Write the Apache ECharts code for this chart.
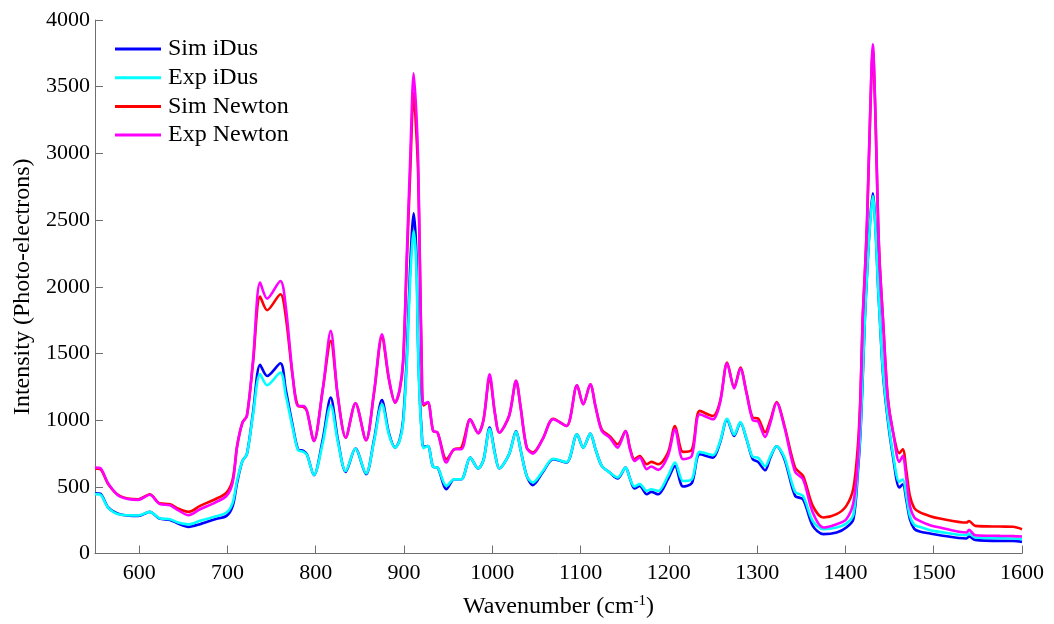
<!DOCTYPE html>
<html>
<head>
<meta charset="utf-8">
<script src="https://cdn.jsdelivr.net/npm/echarts@6/dist/echarts.min.js"></script>
<style>
  html, body { margin: 0; padding: 0; background: #fff; }
  #chart { width: 1054px; height: 624px; }
</style>
</head>
<body>
<div id="chart"></div>
<script>
// Wavenumber sample positions (cm^-1)
const wavenumbers = [
  550, 556, 565, 578, 599, 612, 623, 635, 644, 656, 669, 686, 699, 706, 711, 717, 722, 729, 737, 745, 760,
  766, 774, 780, 786, 790, 798, 808, 817, 825, 834, 845, 857, 866, 875, 883, 890, 895, 899, 903, 907,
  911, 914, 916, 918, 920, 922, 927, 933, 938, 948, 957, 965, 975, 984, 990, 997, 1003, 1008, 1019, 1027,
  1032, 1039, 1046, 1057, 1069, 1084, 1096, 1103, 1111, 1117, 1124, 1133, 1142, 1151, 1156, 1161, 1167, 1175, 1180, 1188,
  1199, 1207, 1216, 1226, 1235, 1250, 1258, 1266, 1274, 1281, 1288, 1295, 1301, 1309, 1315, 1322, 1331, 1343, 1352, 1363,
  1375, 1390, 1401, 1409, 1414, 1417, 1419.5, 1422, 1424.5, 1428, 1431, 1434, 1437, 1439, 1442.5, 1448, 1454, 1461, 1465, 1469,
  1473, 1478, 1484, 1496, 1507, 1537, 1540, 1547, 1575, 1590, 1600
];

// Photo-electron counts per series
const simIDus = [
  452, 448, 345, 295, 282, 312, 262, 252, 225, 200, 220, 257, 282, 357, 532, 694, 744, 1057, 1414, 1331, 1426,
  1231, 956, 782, 769, 744, 587, 857, 1169, 857, 612, 787, 594, 850, 1151, 900, 794, 850, 1000, 1450, 2150,
  2550, 2250, 1550, 1150, 920, 800, 806, 650, 644, 482, 557, 557, 719, 637, 700, 944, 750, 637, 744, 919,
  780, 582, 512, 607, 707, 682, 894, 794, 899, 780, 657, 607, 562, 644, 560, 487, 507, 444, 462, 444,
  557, 657, 502, 527, 744, 719, 832, 1006, 882, 982, 857, 707, 687, 624, 720, 804, 707, 432, 407, 207,
  145, 157, 195, 257, 600, 900, 1300, 1757, 2100, 2500, 2700, 2450, 2000, 1757, 1350, 1000, 720, 495, 519, 400,
  257, 185, 165, 150, 137, 112, 127, 102, 95, 95, 87
];
const expIDus = [
  445, 441, 342, 292, 285, 312, 265, 257, 232, 218, 245, 277, 307, 382, 550, 694, 744, 1040, 1344, 1261, 1357,
  1190, 940, 775, 762, 740, 590, 830, 1112, 840, 618, 787, 600, 840, 1119, 890, 794, 845, 980, 1400, 2050,
  2420, 2150, 1500, 1120, 900, 790, 806, 650, 644, 507, 557, 557, 719, 637, 700, 935, 745, 637, 744, 915,
  780, 582, 532, 615, 710, 685, 894, 794, 899, 780, 657, 607, 570, 644, 560, 502, 520, 469, 482, 469,
  582, 682, 544, 557, 762, 737, 840, 1010, 890, 985, 860, 725, 719, 654, 730, 804, 720, 462, 432, 244,
  182, 195, 225, 290, 640, 930, 1330, 1757, 2100, 2480, 2680, 2430, 2000, 1757, 1370, 1020, 740, 537, 557, 430,
  282, 215, 200, 175, 162, 137, 150, 120, 115, 112, 107
];
const simNewton = [
  637, 632, 520, 432, 407, 444, 377, 370, 337, 312, 357, 407, 457, 557, 806, 982, 1031, 1431, 1926, 1824, 1944,
  1780, 1320, 1106, 1100, 1069, 844, 1231, 1594, 1181, 869, 1127, 849, 1200, 1619, 1300, 1131, 1220, 1430, 2150, 2850,
  3450, 3150, 2850, 2150, 1430, 1110, 1131, 919, 907, 707, 782, 794, 1006, 902, 1000, 1319, 1050, 907, 1031, 1294,
  1100, 794, 757, 857, 1010, 956, 1261, 1119, 1269, 1100, 930, 880, 819, 919, 790, 707, 730, 669, 687, 669,
  757, 956, 762, 777, 1069, 1031, 1140, 1431, 1245, 1394, 1207, 1019, 1012, 909, 1000, 1136, 956, 644, 582, 357,
  270, 295, 357, 490, 800, 1180, 1750, 2100, 2480, 3270, 3780, 3270, 2480, 2150, 1760, 1170, 907, 752, 782, 620,
  432, 340, 310, 280, 262, 232, 244, 207, 202, 200, 182
];
const expNewton = [
  645, 640, 525, 428, 402, 440, 372, 362, 325, 287, 332, 382, 432, 534, 806, 982, 1031, 1450, 2031, 1911, 2043,
  1856, 1331, 1106, 1106, 1069, 844, 1231, 1669, 1181, 869, 1127, 849, 1210, 1644, 1310, 1131, 1230, 1450, 2200, 2950,
  3600, 3300, 2950, 2200, 1450, 1120, 1136, 919, 907, 682, 782, 782, 1006, 902, 1000, 1344, 1050, 907, 1031, 1294,
  1100, 794, 749, 857, 1006, 956, 1261, 1119, 1269, 1100, 919, 869, 794, 919, 780, 694, 719, 632, 652, 627,
  732, 932, 707, 732, 1044, 1006, 1131, 1426, 1237, 1387, 1200, 1000, 990, 874, 980, 1130, 945, 612, 557, 307,
  195, 220, 257, 380, 700, 1157, 1757, 2100, 2506, 3300, 3818, 3300, 2506, 2150, 1757, 1157, 907, 687, 732, 560,
  357, 270, 245, 212, 195, 157, 177, 137, 132, 130, 127
];

const seriesNames = ['Sim iDus', 'Exp iDus', 'Sim Newton', 'Exp Newton'];
const seriesColors = ['#0000ff', '#00ffff', '#ff0000', '#ff00ff'];
const xTicks = [600, 700, 800, 900, 1000, 1100, 1200, 1300, 1400, 1500, 1600];

const FONT = '"Liberation Serif", "Times New Roman", serif';
const AXIS_GREY = '#6e6e6e';

const pairs = vals => wavenumbers.map((w, i) => [w, vals[i]]);
const plain = v => String(v);

const chart = echarts.init(document.getElementById('chart'), null, { renderer: 'canvas' });
chart.setOption({
  animation: false,
  backgroundColor: '#ffffff',
  grid: { left: 95, right: 32, top: 20, bottom: 70, containLabel: false },
  legend: {
    orient: 'vertical',
    left: 110,
    top: 32,
    itemWidth: 46,
    itemHeight: 3,
    itemGap: 4.7,
    icon: 'rect',
    data: seriesNames,
    textStyle: { fontFamily: FONT, fontSize: 24, color: '#000', lineHeight: 24, padding: [0, 0, 0, 2] }
  },
  xAxis: {
    type: 'value',
    min: 550,
    max: 1600,
    name: 'Wavenumber (cm{sup|-1})',
    nameLocation: 'middle',
    nameGap: 40,
    nameTextStyle: {
      fontFamily: FONT, fontSize: 24, color: '#000',
      rich: { sup: { fontFamily: FONT, fontSize: 15, color: '#000', verticalAlign: 'top', padding: [0, 0, 12, 0] } }
    },
    axisLine: { show: true, lineStyle: { color: AXIS_GREY, width: 1 } },
    axisTick: { show: true, inside: true, length: 8, lineStyle: { color: AXIS_GREY }, customValues: xTicks },
    axisLabel: { fontFamily: FONT, fontSize: 22, color: '#000', margin: 9, customValues: xTicks, formatter: plain },
    splitLine: { show: false }
  },
  yAxis: {
    type: 'value',
    min: 0,
    max: 4000,
    interval: 500,
    name: 'Intensity (Photo-electrons)',
    nameLocation: 'middle',
    nameGap: 60,
    nameTextStyle: { fontFamily: FONT, fontSize: 24, color: '#000' },
    axisLine: { show: true, lineStyle: { color: AXIS_GREY, width: 1 } },
    axisTick: { show: true, inside: true, length: 8, lineStyle: { color: AXIS_GREY } },
    axisLabel: { fontFamily: FONT, fontSize: 22, color: '#000', margin: 5, formatter: plain },
    splitLine: { show: false }
  },
  series: [simIDus, expIDus, simNewton, expNewton].map((vals, i) => ({
    name: seriesNames[i],
    type: 'line',
    data: pairs(vals),
    showSymbol: false,
    symbol: 'none',
    smooth: 0.3,
    color: seriesColors[i],
    lineStyle: { width: 2.6, color: seriesColors[i] }
  }))
});
</script>
</body>
</html>
